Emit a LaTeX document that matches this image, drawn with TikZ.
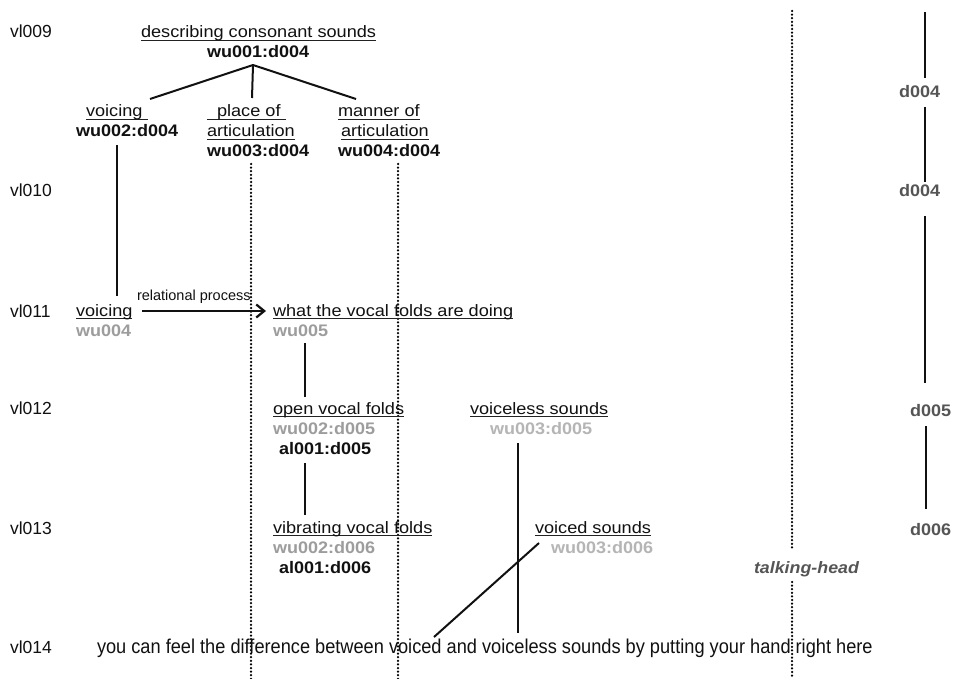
\documentclass[tikz,border=0pt]{standalone}
\usepackage{fontspec}
\setmainfont{Liberation Sans}
\newfontfamily\txtfont{Liberation Sans}[FakeStretch=1.1]
\newfontfamily\codefont{Liberation Sans}[FakeStretch=1.08]
\newfontfamily\sentfont{Liberation Sans}[FakeStretch=0.91]
\usetikzlibrary{arrows.meta}

\definecolor{inkc}{HTML}{111111}
\definecolor{rulec}{HTML}{222222}
\definecolor{greyA}{HTML}{9D9D9D}
\definecolor{greyB}{HTML}{B5B5B5}
\definecolor{greyC}{HTML}{555555}

% underline sitting a fixed distance below the baseline
\newsavebox\ulbox
\newcommand\ulin[1]{\sbox\ulbox{#1}\rlap{\color{rulec}\rule[-3pt]{\wd\ulbox}{1.1pt}}\usebox\ulbox}

\tikzset{
  every node/.style={inner sep=0pt, outer sep=0pt, anchor=base west},
  vltag/.style={font=\fontsize{17.5}{20}\selectfont, text=inkc},
  lbl/.style={font=\txtfont\fontsize{16.5}{20}\selectfont, text=inkc},
  wcode/.style={font=\codefont\fontsize{16.7}{20}\selectfont\bfseries, text=inkc},
  gcode/.style={wcode, text=greyA},
  lcode/.style={wcode, text=greyB},
  dcode/.style={wcode, text=greyC},
  conn/.style={line width=2pt, draw=inkc},
  divider/.style={line width=2.5pt, dash pattern=on 0pt off 3.6pt, line cap=round, draw=black},
}

\begin{document}
\begin{tikzpicture}[x=1pt,y=1pt]
\useasboundingbox (0,0) rectangle (953,-679);
\fill[white] (0,0) rectangle (953,-679);

% row tags
\node[vltag] (r9)  at (10,-38)  {vl009};
\node[vltag] (r10) at (10,-197) {vl010};
\node[vltag] (r11) at (10,-317) {vl011};
\node[vltag] (r12) at (10,-414) {vl012};
\node[vltag] (r13) at (10,-534) {vl013};
\node[vltag] (r14) at (10,-653) {vl014};

% dividers
\draw[divider] (251,-164) -- (251,-679);
\draw[divider] (398,-164) -- (398,-679);
\draw[divider] (792,-11) -- (792,-550);
\draw[divider] (792,-582) -- (792,-679);

% tree at vl009
\node[lbl]   (t1) at (141,-38) {\ulin{describing consonant sounds}};
\node[wcode] (t2) at (207,-58) {wu001:d004};
\node[lbl]   (a1) at (86,-117)  {\ulin{voicing\ }};
\node[wcode] (a2) at (76,-137)  {wu002:d004};
\node[lbl]   (b1) at (207,-117) {\ulin{\hspace*{10pt}place of\ }};
\node[lbl]   (b2) at (207,-137) {\ulin{articulation}};
\node[wcode] (b3) at (207,-157) {wu003:d004};
\node[lbl]   (c1) at (338,-117) {\ulin{manner of}};
\node[lbl]   (c2) at (341,-137) {\ulin{articulation}};
\node[wcode] (c3) at (338,-157) {wu004:d004};

\coordinate (hub) at ([shift={(46,-7)}]t2.base west);
\draw[conn] (hub) -- ([shift={(64,18)}]a1.base west);
\draw[conn] (hub) -- ([shift={(45,19)}]b1.base west);
\draw[conn] (hub) -- ([shift={(18,18)}]c1.base west);

% vl011
\node[lbl]   (v1) at (76,-316)  {\ulin{voicing}};
\node[gcode] (v2) at (76,-336)  {wu004};
\node[lbl]   (w1) at (273,-316) {\ulin{what the vocal folds are doing}};
\node[gcode] (w2) at (273,-336) {wu005};
\node[font=\fontsize{14.5}{16}\selectfont, text=inkc] (rp) at (137,-300) {relational process};

\draw[conn] ([shift={(41,-8)}]a2.base west) -- ([shift={(41,20)}]v1.base west);
\draw[conn, line width=2.2pt, -{Straight Barb[length=8pt,width=13pt]}]
  ([shift={(66,5)}]v1.base west) -- ([shift={(-7,5)}]w1.base west);

% vl012
\node[lbl]   (o1) at (273,-414) {\ulin{open vocal folds}};
\node[gcode] (o2) at (273,-434) {wu002:d005};
\node[wcode] (o3) at (279,-454) {al001:d005};
\node[lbl]   (s1) at (470,-414) {\ulin{voiceless sounds}};
\node[lcode] (s2) at (490,-434) {wu003:d005};

\draw[conn] ([shift={(32,-7)}]w2.base west) -- ([shift={(32,17)}]o1.base west);

% vl013
\node[lbl]   (f1) at (273,-533) {\ulin{vibrating vocal folds}};
\node[gcode] (f2) at (273,-553) {wu002:d006};
\node[wcode] (f3) at (279,-573) {al001:d006};
\node[lbl]   (z1) at (535,-533) {\ulin{voiced sounds}};
\node[lcode] (z2) at (551,-553) {wu003:d006};
\node[font=\codefont\fontsize{16.5}{20}\selectfont\bfseries\itshape, text=greyC] (th) at (754,-573) {talking-head};

\draw[conn] ([shift={(26,-9)}]o3.base west) -- ([shift={(32,18)}]f1.base west);

% vl014
\node[font=\sentfont\fontsize{20}{22}\selectfont, text=inkc] (sent) at (97,-653)
  {you can feel the difference between voiced and voiceless sounds by putting your hand right here};

\draw[conn, line width=1.8pt] ([shift={(28,-9)}]s2.base west) -- ([shift={(421,20)}]sent.base west);
\draw[conn] ([shift={(4,-10)}]z1.base west) -- ([shift={(337,16)}]sent.base west);

% right-hand column
\node[dcode] (d1) at (899,-98)  {d004};
\node[dcode] (d2) at (899,-197) {d004};
\node[dcode] (d3) at (910,-416) {d005};
\node[dcode] (d4) at (910,-535) {d006};
\coordinate (dtop) at (925,-12);
\draw[conn] (dtop) -- ([shift={(26,20)}]d1.base west);
\draw[conn] ([shift={(26,-9)}]d1.base west) -- ([shift={(26,15)}]d2.base west);
\draw[conn] ([shift={(26,-19)}]d2.base west) -- ([shift={(15,33)}]d3.base west);
\draw[conn] ([shift={(16,-10)}]d3.base west) -- ([shift={(16,26)}]d4.base west);
\end{tikzpicture}
\end{document}
